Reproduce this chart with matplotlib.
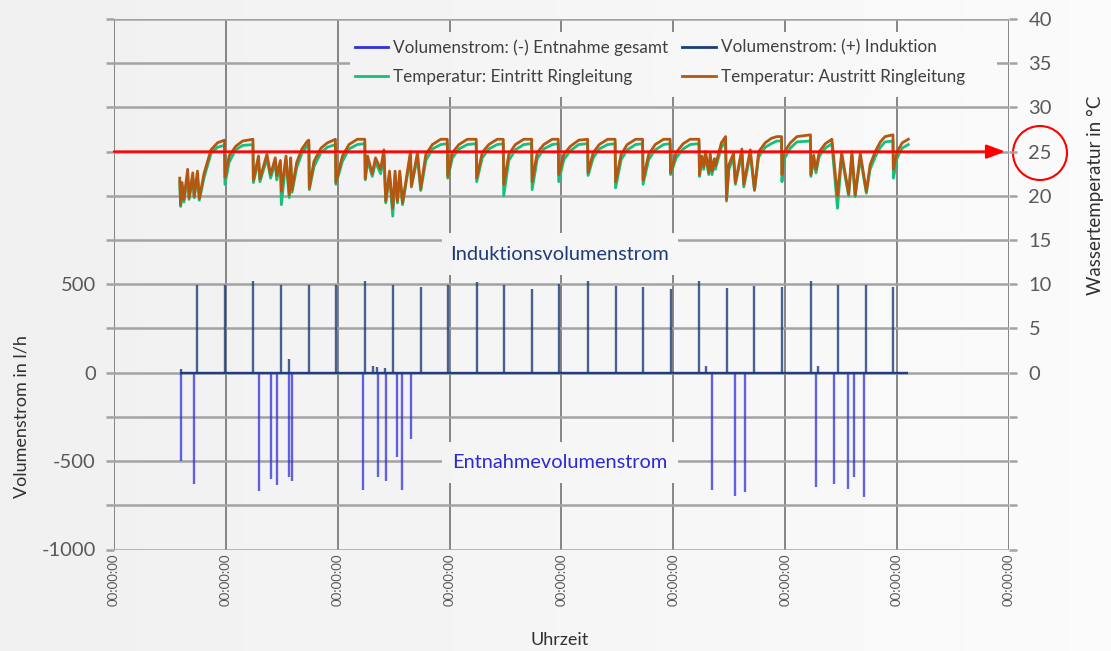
import numpy as np
import matplotlib.pyplot as plt
from matplotlib.lines import Line2D
from matplotlib.patches import Ellipse

plt.rcParams['font.family'] = ['Lato', 'DejaVu Sans']

# Volumenstrom Induktion (+), Stunden ab Start / l/h
ind_hours = [17.9, 23.8, 29.9, 35.9, 41.9, 47.6, 53.9, 59.8, 65.8, 71.6, 77.8, 83.6, 89.7,
             95.4, 101.7, 107.6, 113.5, 119.4, 125.6, 131.4, 137.4, 143.3, 149.5, 155.4,
             161.4, 167.2, 14.4, 37.5, 55.6, 56.4, 58.1, 127.0, 151.0]
ind_flow = [495, 495, 520, 495, 495, 495, 520, 495, 482, 495, 510, 497, 474,
            503, 520, 491, 486, 474, 516, 480, 491, 486, 516, 497,
            497, 486, 22, 80, 35, 30, 28, 40, 40]

# Volumenstrom Entnahme gesamt (-)
ent_hours = [14.4, 17.1, 31.2, 33.6, 34.9, 37.6, 38.1, 53.4, 56.6, 58.3, 60.8, 61.8, 63.8,
             128.3, 133.3, 135.4, 150.6, 154.4, 157.4, 158.8, 160.8]
ent_flow = [-497, -627, -667, -599, -633, -591, -610, -661, -591, -610, -478, -661, -375,
            -661, -695, -676, -648, -627, -658, -591, -704]

# Temperaturen Ringleitung: Zeit [h], Austritt [°C], Eintritt [°C]
temp_hours = [14.1, 14.3, 14.6, 15.0, 15.8, 16.1, 16.9, 17.2, 17.9, 18.3, 19.3, 20.8, 22.2,
              23.7, 23.8, 24.7, 26.1, 27.6, 29.8,
              29.9, 31.0, 31.3, 32.8, 33.6, 34.6, 34.9, 35.7, 35.9, 36.9, 37.6, 37.9, 38.2,
              39.2, 40.3, 41.5, 41.8,
              41.9, 42.9, 44.4, 45.8, 47.5,
              47.6, 49.0, 50.4, 52.2, 53.8,
              53.9, 54.4, 55.4, 56.1, 57.2, 57.9, 58.3, 59.1, 59.8, 60.3, 60.8, 61.3, 61.9,
              63.6, 63.8, 65.1,
              65.8, 66.9, 68.3, 70.1, 71.5,
              71.6, 72.6, 74.0, 75.8, 77.7,
              77.8, 79.0, 80.4, 82.2, 83.5,
              83.6, 84.7, 86.1, 87.9, 89.6,
              89.7, 90.8, 92.2, 94.0, 95.3,
              95.4, 96.5, 97.9, 99.7, 101.6,
              101.7, 102.8, 104.1, 105.9, 107.5,
              107.6, 108.8, 110.1, 111.9, 113.4,
              113.5, 114.7, 116.1, 117.9, 119.3,
              119.4, 120.6, 122.1, 123.6, 125.5,
              125.6, 126.1, 126.5, 126.9, 127.6, 127.9, 128.3, 128.8, 129.0, 130.3, 131.2,
              131.4, 131.9, 132.9, 133.3, 134.7, 135.1, 136.5, 137.4, 138.3, 139.7, 141.0,
              142.2, 143.2,
              143.3, 143.6, 145.1, 146.5, 149.4,
              149.5, 150.1, 150.6, 151.3, 152.6, 154.0,
              155.2, 156.1, 157.6, 158.3, 159.0, 160.1, 161.4, 162.2, 163.3, 164.4, 165.4,
              167.1,
              167.2, 168.0, 169.1, 170.4]
temp_out = [22.0, 19.0, 21.5, 19.6, 23.0, 19.8, 22.6, 19.9, 22.8, 19.7, 22.5, 25.2, 26.0,
            26.3, 22.1, 24.5, 25.6, 26.2, 26.4,
            21.8, 24.5, 21.9, 24.7, 22.4, 24.3, 22.3, 24.0, 20.5, 24.5, 20.1, 24.3, 20.7,
            23.8, 25.3, 26.2, 26.3,
            20.9, 23.9, 25.4, 26.0, 26.4,
            21.5, 24.5, 25.8, 26.4, 26.4,
            22.0, 24.5, 22.5, 24.3, 23.0, 25.2, 19.4, 22.8, 18.6, 22.8, 19.4, 22.8, 19.2,
            25.0, 21.1, 24.9,
            20.8, 24.7, 25.8, 26.4, 26.4,
            22.2, 24.9, 25.8, 26.4, 26.4,
            22.0, 24.9, 25.8, 26.4, 26.4,
            21.3, 24.7, 25.8, 26.4, 26.4,
            21.6, 24.9, 25.8, 26.4, 26.4,
            22.4, 24.7, 25.6, 26.3, 26.4,
            22.6, 24.9, 25.8, 26.4, 26.4,
            21.6, 24.7, 25.8, 26.4, 26.4,
            21.8, 24.7, 25.8, 26.4, 26.4,
            22.6, 24.9, 25.9, 26.4, 26.4,
            22.4, 24.5, 23.3, 25.0, 22.6, 24.8, 22.8, 24.2, 23.4, 26.0, 26.7,
            19.6, 23.5, 24.8, 21.5, 25.3, 21.3, 25.2, 20.7, 25.0, 26.0, 26.5,
            26.7, 26.7,
            22.4, 24.8, 26.0, 26.7, 26.9,
            22.4, 24.6, 23.0, 25.0, 25.9, 26.4,
            20.0, 24.9, 20.2, 25.0, 20.1, 24.8, 20.5, 23.5, 25.0, 26.1, 26.7,
            26.9,
            23.0, 25.0, 26.0, 26.4]
temp_in = [21.6, 18.8, 21.0, 19.3, 22.4, 19.6, 22.0, 19.8, 22.2, 19.5, 22.0, 24.8, 25.5,
           25.7, 21.3, 23.8, 25.2, 25.7, 25.8,
           21.5, 24.0, 21.6, 24.2, 22.0, 23.8, 21.8, 23.5, 19.0, 24.0, 19.8, 23.8, 20.4,
           23.2, 24.8, 25.7, 25.8,
           20.7, 23.3, 24.9, 25.5, 25.8,
           21.3, 23.9, 25.3, 25.8, 25.9,
           21.8, 24.0, 22.2, 23.8, 22.5, 24.6, 19.2, 22.3, 17.7, 22.3, 19.2, 22.2, 19.0,
           24.5, 21.0, 24.4,
           20.6, 24.0, 25.3, 25.8, 25.9,
           22.0, 24.3, 25.3, 25.8, 25.9,
           21.6, 24.3, 25.3, 25.8, 25.9,
           20.0, 24.0, 25.2, 25.8, 25.9,
           20.7, 24.2, 25.3, 25.8, 25.9,
           21.6, 24.1, 25.1, 25.8, 25.9,
           22.3, 24.3, 25.3, 25.8, 25.9,
           20.9, 24.1, 25.2, 25.8, 25.9,
           21.3, 24.1, 25.2, 25.8, 25.9,
           22.4, 24.3, 25.3, 25.8, 25.9,
           22.2, 24.0, 23.0, 24.5, 22.4, 24.3, 22.4, 23.8, 23.0, 25.5, 26.1,
           19.4, 23.0, 24.3, 21.3, 24.8, 21.0, 24.7, 20.6, 24.4, 25.5, 25.9,
           26.2, 26.2,
           21.6, 24.0, 25.4, 26.1, 26.2,
           22.2, 24.0, 22.6, 24.5, 25.4, 25.9,
           18.6, 24.4, 20.0, 24.5, 19.9, 24.3, 20.3, 23.0, 24.4, 25.5, 26.1,
           26.2,
           22.0, 24.3, 25.4, 25.8]

day_ticks = list(range(0, 193, 24))
day_labels = ['00:00:00'] * len(day_ticks)

W, H = 1111, 651
c_ent = '#2f2fdc'
c_ind = '#1d3c78'
c_in = '#14c07c'
c_out = '#b5570f'
c_grid_h = '#a3a3a3'
c_grid_v = '#727272'
c_txt = '#595959'
bg_lo, bg_hi = 0.94, 0.982

fig = plt.figure(figsize=(W / 100, H / 100), dpi=100)

# leicht verlaufender Hintergrund
bg = fig.add_axes([0, 0, 1, 1], zorder=-10)
bg.imshow(np.linspace(bg_lo, bg_hi, 256)[None, :], cmap='gray', vmin=0, vmax=1, aspect='auto')
bg.axis('off')


def bg_patch(x0, y0, x1, y1):
    # deckt Gitterlinien hinter Beschriftungen ab (Pixel ab oben links)
    a = fig.add_axes([x0 / W, 1 - y1 / H, (x1 - x0) / W, (y1 - y0) / H], zorder=0.5)
    g = np.linspace(bg_lo + (bg_hi - bg_lo) * x0 / W, bg_lo + (bg_hi - bg_lo) * x1 / W, 64)
    a.imshow(g[None, :], cmap='gray', vmin=0, vmax=1, aspect='auto')
    a.axis('off')


ax1 = fig.add_axes([114 / W, 1 - 549.5 / H, 895 / W, 530.5 / H], zorder=0)
ax1.patch.set_visible(False)
ax2 = ax1.twinx()
ax2.set_zorder(1)
ax2.patch.set_visible(False)

ax1.set_xlim(0, 192)
ax1.set_ylim(-1000, 2000)
ax2.set_ylim(-20, 40)

# Volumenströme
ax1.hlines(0, 14.1, 170.4, color=c_ent, lw=1.5, alpha=0.8)
ax1.vlines(ent_hours, 0, ent_flow, color=c_ent, lw=1.7, alpha=0.75)
ax1.hlines(0, 14.1, 170.4, color=c_ind, lw=1.7, alpha=0.85)
ax1.vlines(ind_hours, 0, ind_flow, color=c_ind, lw=1.7, alpha=0.8)

# Gitter und Achsen
yt = np.arange(-1000, 2001, 250)
ax1.set_yticks(yt)
ax1.set_yticklabels([str(v) if v in (-1000, -500, 0, 500) else '' for v in yt])
ax1.set_xticks(day_ticks)
ax1.set_xticklabels(day_labels, rotation=90)
ax1.set_axisbelow(True)
ax1.grid(axis='y', color=c_grid_h, lw=1.8)
ax1.grid(axis='x', color=c_grid_v, lw=1.2)
ax1.tick_params(axis='y', length=6, width=1.8, color=c_grid_h, labelcolor=c_txt,
                labelsize=14.5, pad=7)
ax1.tick_params(axis='x', length=0, labelcolor=c_txt, labelsize=9.5, pad=3)

tt = np.arange(-20, 41, 5)
ax2.set_yticks(tt)
ax2.set_yticklabels([str(v) if v >= 0 else '' for v in tt])
ax2.tick_params(axis='y', length=6, width=1.8, color=c_grid_h, labelcolor=c_txt,
                labelsize=14.5, pad=8)
for a in (ax1, ax2):
    for s in a.spines.values():
        s.set_visible(False)

# Temperaturen
ax2.plot(temp_hours, temp_in, color=c_in, lw=2.0)
ax2.plot(temp_hours, temp_out, color=c_out, lw=2.0)

# 25 °C Markierung
ax2.annotate('', xy=(191.2, 25), xytext=(0, 25),
             arrowprops=dict(arrowstyle='-|>,head_length=0.8,head_width=0.3', color='red',
                             lw=1.8, mutation_scale=14, shrinkA=0, shrinkB=0))
fig.add_artist(Ellipse((1040 / W, 1 - 153 / H), 54 / W, 54 / H, fill=False,
                       ec='red', lw=1.5, transform=fig.transFigure))

# Beschriftungen
bg_patch(350, 32, 997, 97)
bg_patch(442, 233, 677, 275)
bg_patch(442, 442, 677, 483)
fig.text(560 / W, 1 - 255 / H, 'Induktionsvolumenstrom', color=c_ind, fontsize=14.4,
         ha='center', va='center')
fig.text(560 / W, 1 - 462 / H, 'Entnahmevolumenstrom', color='#2a2ad6', fontsize=14.4,
         ha='center', va='center')

handles = [Line2D([], [], color=c_ent, lw=2),
           Line2D([], [], color=c_in, lw=2),
           Line2D([], [], color=c_ind, lw=2),
           Line2D([], [], color=c_out, lw=2)]
labels = ['Volumenstrom: (-) Entnahme gesamt',
          'Temperatur: Eintritt Ringleitung',
          'Volumenstrom: (+) Induktion',
          'Temperatur: Austritt Ringleitung']
fig.legend(handles, labels, loc='upper left', bbox_to_anchor=(355 / W, 1 - 39 / H), ncol=2,
           frameon=False, fontsize=12.3, handlelength=1.95, handletextpad=0.3,
           columnspacing=0.8, labelspacing=0.78, borderpad=0, borderaxespad=0,
           labelcolor='#404040')

fig.text(22 / W, 1 - 417 / H, 'Volumenstrom in l/h', rotation=90, ha='center', va='center',
         fontsize=13, color='#303030')
fig.text(1095 / W, 1 - 195 / H, 'Wassertemperatur in °C', rotation=90, ha='center',
         va='center', fontsize=13.5, color='#303030')
fig.text(560 / W, 1 - 640 / H, 'Uhrzeit', ha='center', va='center', fontsize=13,
         color='#303030')

fig.savefig('out.png', dpi=100)
